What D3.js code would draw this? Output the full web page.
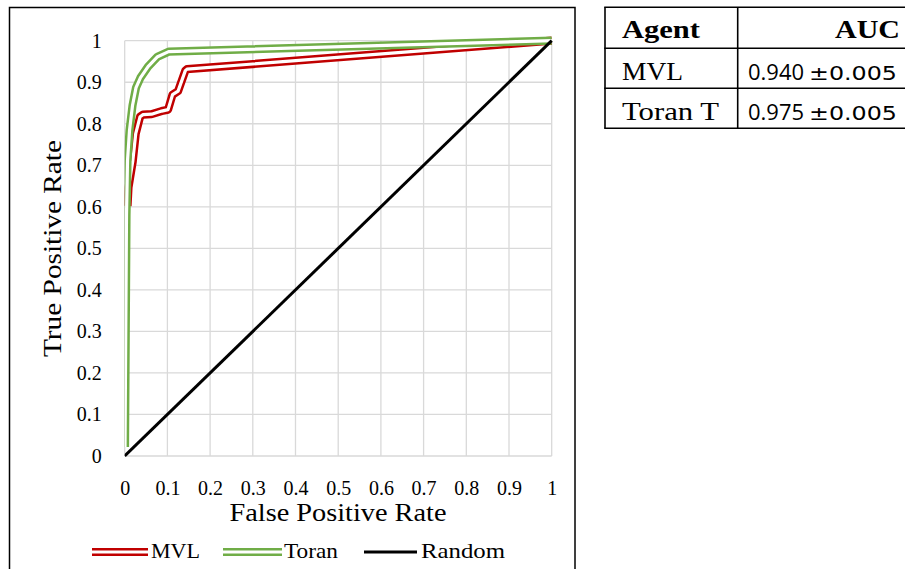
<!DOCTYPE html>
<html><head><meta charset="utf-8">
<script src="https://cdn.jsdelivr.net/npm/d3@7/dist/d3.min.js"></script>
<style>html,body{margin:0;padding:0;background:#fff}svg{display:block}</style>
</head><body>
<svg id="chart" width="905" height="569"></svg>
<script>
// ---- data ----
const tickValues = [0, 0.1, 0.2, 0.3, 0.4, 0.5, 0.6, 0.7, 0.8, 0.9, 1];
const tickLabels = ["0", "0.1", "0.2", "0.3", "0.4", "0.5", "0.6", "0.7", "0.8", "0.9", "1"];
const seriesNames = ["MVL", "Toran", "Random"];
const mvlFPR = [0.0066, 0.0089, 0.0188, 0.0258, 0.036, 0.043, 0.063, 0.0864, 0.1016, 0.112, 0.125, 0.142, 0.146, 1];
const mvlTPR = [0.602, 0.647, 0.709, 0.776, 0.817, 0.822, 0.823, 0.8305, 0.834, 0.870, 0.8786, 0.928, 0.9315, 1];
const toranFPR = [0.0007, 0.0042, 0.0066, 0.0113, 0.0183, 0.0265, 0.037, 0.0547, 0.077, 0.1028, 1];
const toranTPR = [0.0216, 0.579, 0.7115, 0.784, 0.844, 0.887, 0.911, 0.9375, 0.9615, 0.9736, 1];
const randomFPR = [0, 1];
const randomTPR = [0, 1];
const xTitle = "False Positive Rate";
const yTitle = "True Positive Rate";
const tableHeader = ["Agent", "AUC"];
const tableAgents = ["MVL", "Toran T"];
const tableAUC = ["0.940", "0.975"];
const tableErr = ["±0.005", "±0.005"];

// ---- drawing ----
const svg = d3.select("#chart");
const SERIF = "'Liberation Serif', 'Times New Roman', serif";
const SANS = "'Open Sans', 'Noto Sans', sans-serif";
const WIDE = "'DejaVu Sans', 'Open Sans', sans-serif";
const RED = "#c00000", GREEN = "#70ad47";
const fit = (sel, w) => sel.attr("textLength", w).attr("lengthAdjust", "spacingAndGlyphs");

// chart frame
svg.append("rect").attr("x", 9.5).attr("y", 7.5).attr("width", 565.5).attr("height", 570)
  .attr("fill", "none").attr("stroke", "#000").attr("stroke-width", 1.5);

const x = d3.scaleLinear().domain([0, 1]).range([124.7, 551.7]);
const y = d3.scaleLinear().domain([0, 1]).range([456, 40.7]);

// grid
const g = svg.append("g");
g.selectAll("line.vx").data(tickValues).join("line")
  .attr("x1", d => x(d)).attr("x2", d => x(d)).attr("y1", y(0)).attr("y2", y(1))
  .attr("stroke", "#d9d9d9").attr("stroke-width", 1.3);
g.selectAll("line.hy").data(tickValues).join("line")
  .attr("y1", d => y(d)).attr("y2", d => y(d)).attr("x1", x(0)).attr("x2", x(1))
  .attr("stroke", "#d9d9d9").attr("stroke-width", 1.3);

// axes (labels only)
const xAxis = d3.axisBottom(x).tickValues(tickValues).tickFormat((d, i) => tickLabels[i]).tickSize(0).tickPadding(0);
const ax = svg.append("g").attr("transform", `translate(0,${y(0)})`).call(xAxis);
ax.select(".domain").remove();
ax.selectAll("text").attr("dy", null).attr("y", 38.5).attr("font-family", SERIF).attr("font-size", 20).attr("fill", "#000");

const yAxis = d3.axisLeft(y).tickValues(tickValues).tickFormat((d, i) => tickLabels[i]).tickSize(0).tickPadding(0);
const ay = svg.append("g").attr("transform", `translate(101.7,0)`).call(yAxis);
ay.select(".domain").remove();
ay.selectAll("text").attr("dy", null).attr("x", 0).attr("y", 6.3).attr("font-family", SERIF).attr("font-size", 20).attr("fill", "#000");

// titles
fit(svg.append("text").attr("x", 338).attr("y", 520.7).attr("text-anchor", "middle")
  .attr("font-family", SERIF).attr("font-size", 26).text(xTitle), 217);
fit(svg.append("text").attr("transform", "translate(60.5,248.5) rotate(-90)").attr("text-anchor", "middle")
  .attr("font-family", SERIF).attr("font-size", 26).text(yTitle), 217);

// clip
svg.append("clipPath").attr("id", "plotclip").append("rect")
  .attr("x", x(0)).attr("y", y(1) - 8).attr("width", x(1) - x(0) + 8).attr("height", y(0) - y(1) + 16);

const line = d3.line().x(d => x(d[0])).y(d => y(d[1]));
const plot = svg.append("g").attr("clip-path", "url(#plotclip)");
function doubleLine(parent, pts, color) {
  parent.append("path").attr("d", line(pts)).attr("fill", "none").attr("stroke", color)
    .attr("stroke-width", 8.2).attr("stroke-linejoin", "round");
  parent.append("path").attr("d", line(pts)).attr("fill", "none").attr("stroke", "#fff")
    .attr("stroke-width", 3.2).attr("stroke-linejoin", "round");
}
doubleLine(plot, mvlFPR.map((v, i) => [v, mvlTPR[i]]), RED);
doubleLine(plot, toranFPR.map((v, i) => [v, toranTPR[i]]), GREEN);
plot.append("path").attr("d", line(randomFPR.map((v, i) => [v, randomTPR[i]])))
  .attr("fill", "none").attr("stroke", "#000").attr("stroke-width", 3);

// legend
const legY = 552;
const legend = [
  { name: seriesNames[0], x0: 92, x1: 148, tx: 151, tw: 49, color: RED, dbl: true },
  { name: seriesNames[1], x0: 223, x1: 282, tx: 284, tw: 54, color: GREEN, dbl: true },
  { name: seriesNames[2], x0: 364, x1: 417, tx: 421, tw: 84, color: "#000", dbl: false }
];
legend.forEach(l => {
  svg.append("line").attr("x1", l.x0).attr("x2", l.x1).attr("y1", legY).attr("y2", legY)
    .attr("stroke", l.color).attr("stroke-width", l.dbl ? 8 : 3.2);
  if (l.dbl) svg.append("line").attr("x1", l.x0).attr("x2", l.x1).attr("y1", legY).attr("y2", legY)
    .attr("stroke", "#fff").attr("stroke-width", 3);
  fit(svg.append("text").attr("x", l.tx).attr("y", 557.7).attr("font-family", SERIF)
    .attr("font-size", 22).text(l.name), l.tw);
});

// table
const T = { left: 605, right: 910, mid: 737.7, rows: [7.3, 48.3, 88.3, 128.3] };
const tg = svg.append("g").attr("stroke", "#000").attr("stroke-width", 1.6);
T.rows.forEach(r => tg.append("line").attr("x1", T.left - 0.8).attr("x2", T.right).attr("y1", r).attr("y2", r));
tg.append("line").attr("x1", T.left).attr("x2", T.left).attr("y1", T.rows[0]).attr("y2", T.rows[3]);
tg.append("line").attr("x1", T.mid).attr("x2", T.mid).attr("y1", T.rows[0]).attr("y2", T.rows[3]);

fit(svg.append("text").attr("x", 622).attr("y", 38.3).attr("font-family", SERIF).attr("font-weight", "bold")
  .attr("font-size", 25).text(tableHeader[0]), 78);
fit(svg.append("text").attr("x", 835).attr("y", 38.3).attr("font-family", SERIF).attr("font-weight", "bold")
  .attr("font-size", 25).text(tableHeader[1]), 65);
const rowBase = [80, 119.5];
const agentW = [61, 97];
tableAgents.forEach((a, i) => {
  fit(svg.append("text").attr("x", 622).attr("y", rowBase[i]).attr("font-family", SERIF)
    .attr("font-size", 25).text(a), agentW[i]);
  fit(svg.append("text").attr("x", 748).attr("y", rowBase[i]).attr("font-family", SANS)
    .attr("font-size", 22).text(tableAUC[i]), 56);
  fit(svg.append("text").attr("x", 809).attr("y", rowBase[i]).attr("font-family", WIDE)
    .attr("font-size", 19).text(tableErr[i]), 88);
});
</script>
</body></html>
